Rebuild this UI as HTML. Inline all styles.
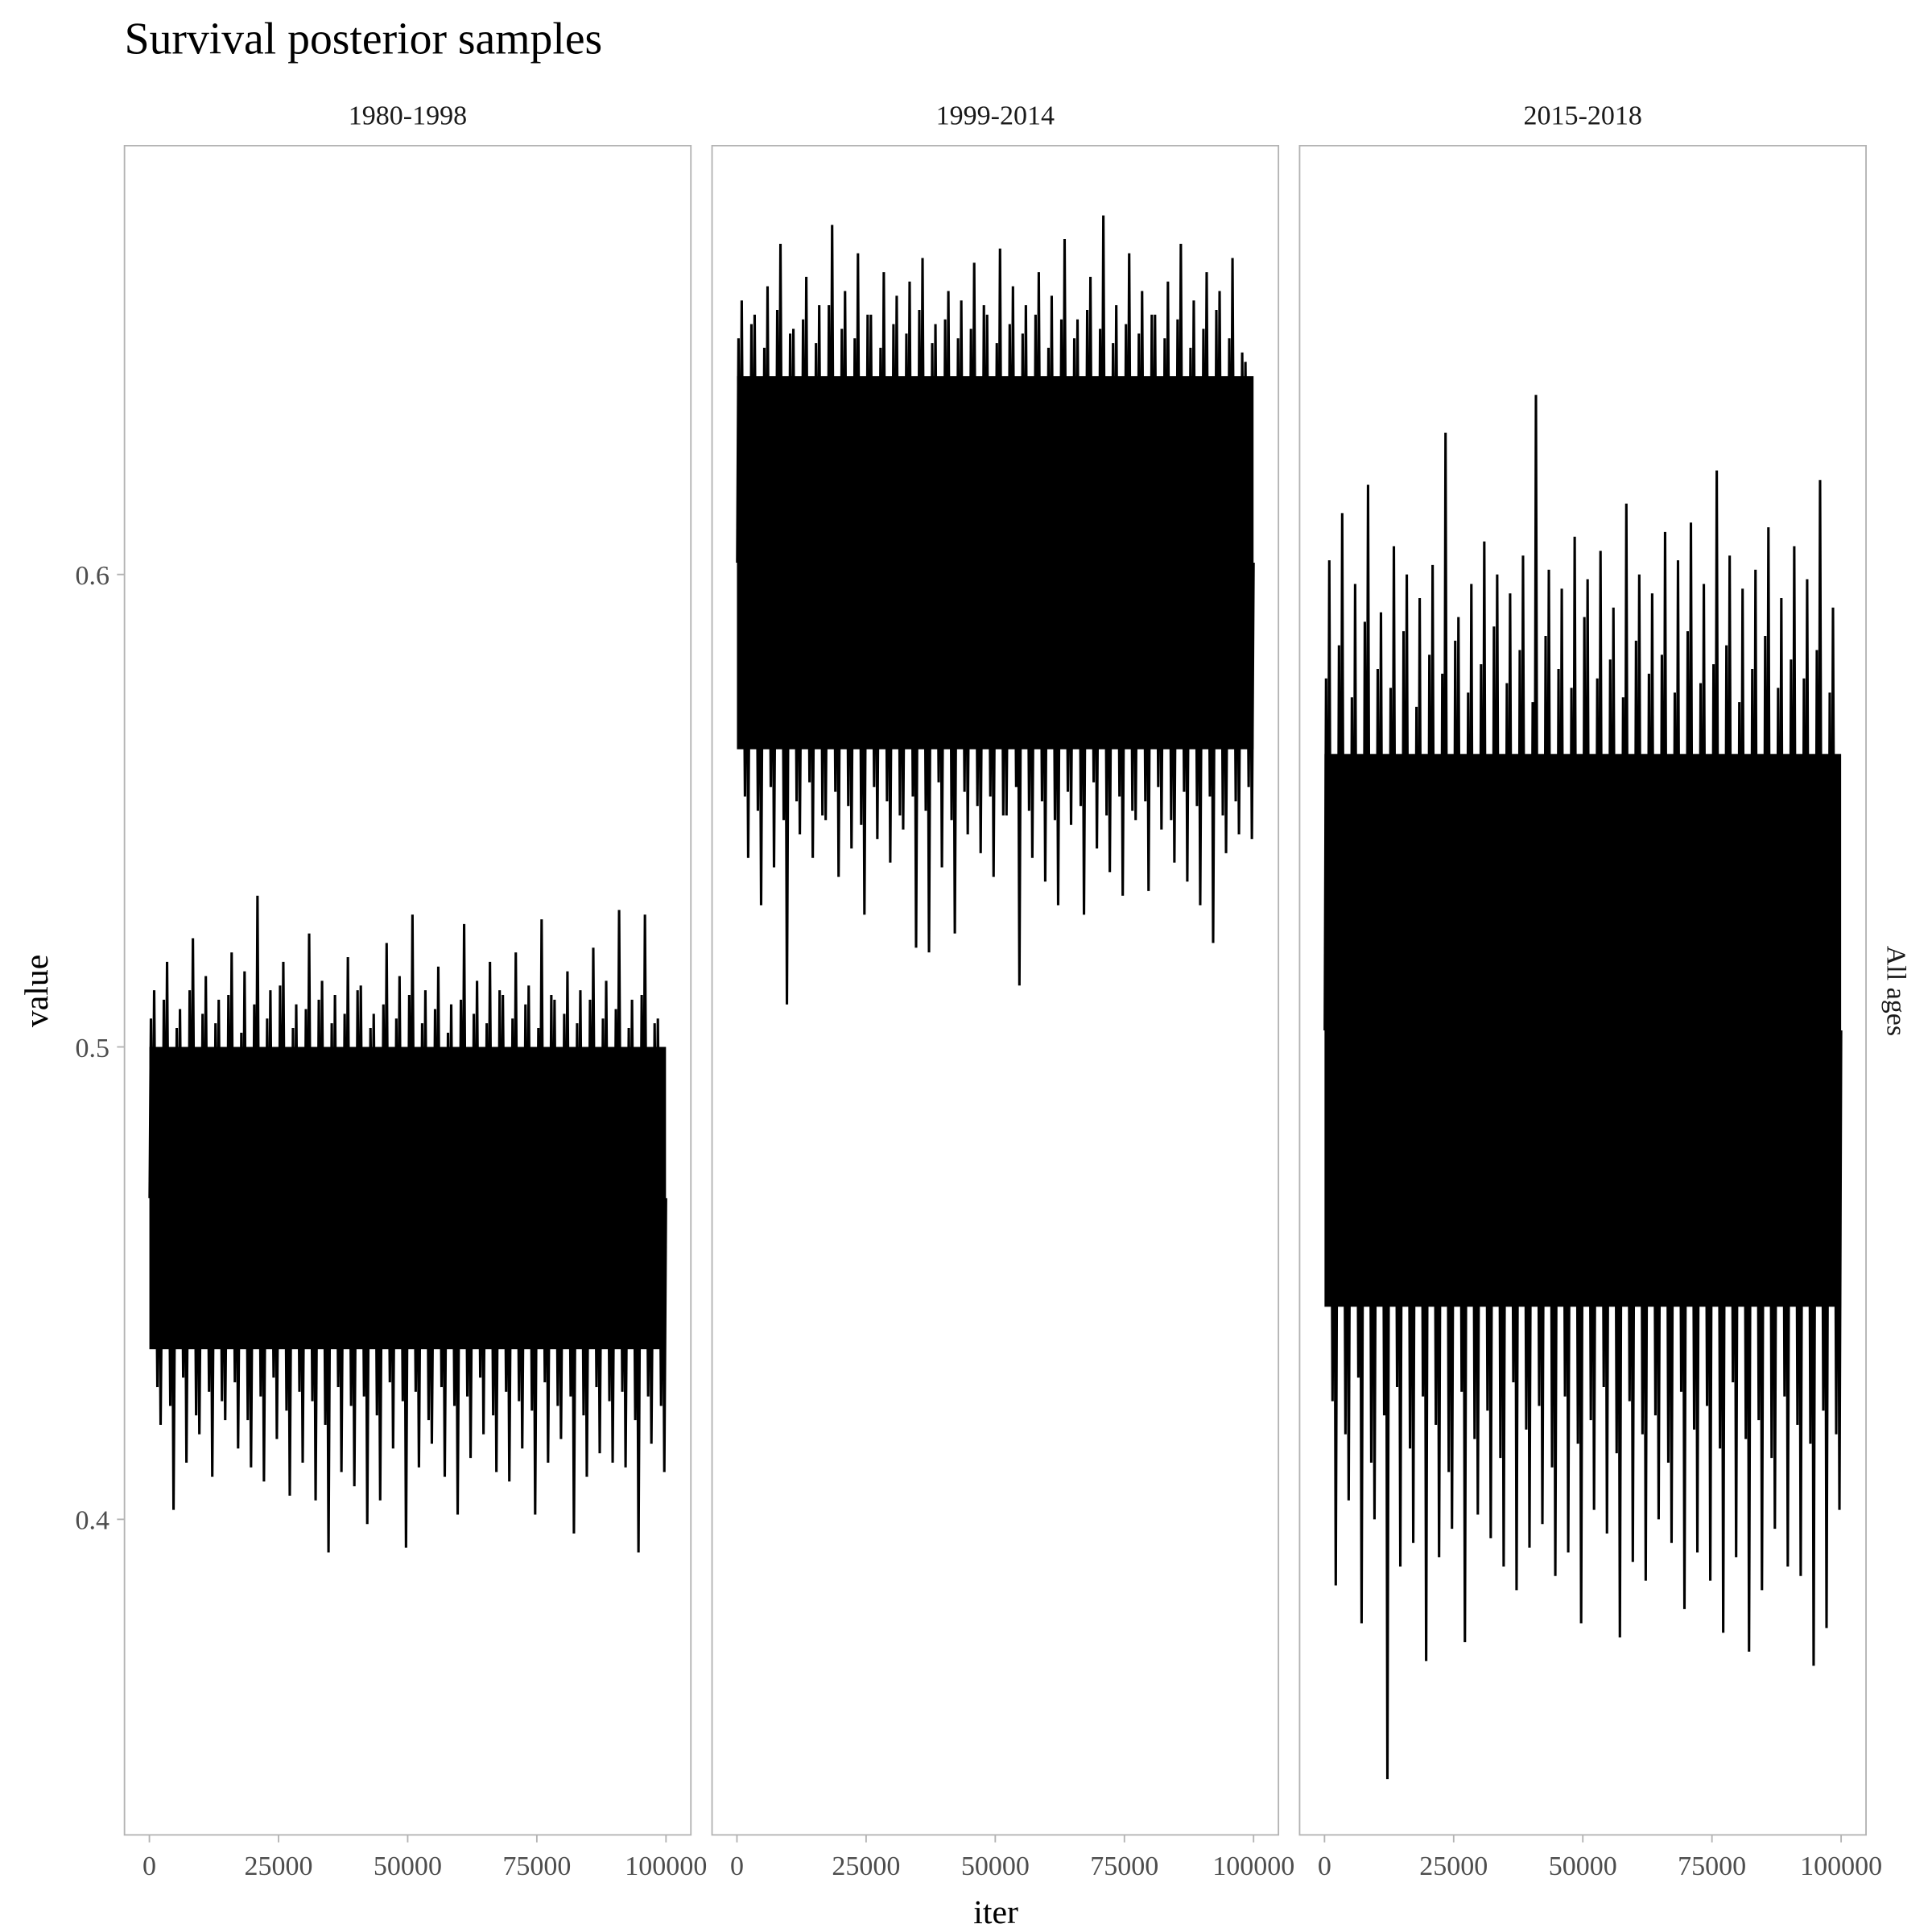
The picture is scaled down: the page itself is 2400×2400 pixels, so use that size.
<!DOCTYPE html>
<html><head><meta charset="utf-8"><style>
html,body{margin:0;padding:0;background:#fff}
svg{display:block}
text{font-family:"Liberation Serif",serif}
</style></head><body>
<svg id="chart" width="2400" height="2400" viewBox="0 0 1552 1552">
<text x="100" y="43" font-size="36" fill="#000">Survival posterior samples</text>
<text x="38" y="796" font-size="27" fill="#000" transform="rotate(-90 38 796)" text-anchor="middle">value</text>
<text x="800" y="1545" font-size="27" fill="#000" text-anchor="middle">iter</text>
<text x="1516" y="796" font-size="22" fill="#1a1a1a" transform="rotate(90 1516 796)" text-anchor="middle">All ages</text>
<g id="plots"></g>
</svg>
<script>
const panelNames = ["1980-1998", "1999-2014", "2015-2018"];
const xTicks = [0, 25000, 50000, 75000, 100000];
const yTicks = [0.4, 0.5, 0.6];
const coreLow = [0.436, 0.563, 0.445];
const coreHigh = [0.500, 0.642, 0.562];
const upper1 = [0.512,0.518,0.508,0.523,0.515,0.510,0.520,0.516,0.532,0.512,0.518,0.509,0.524,0.514,0.511,0.519,0.513,0.507,0.522,0.515,0.528,0.512,0.517,0.509,0.526,0.514,0.518,0.511,0.520,0.513,0.527,0.510,0.516,0.512,0.521,0.514,0.529,0.510,0.528,0.506];
const lower1 = [0.420,0.402,0.412,0.418,0.409,0.421,0.415,0.411,0.408,0.417,0.405,0.412,0.404,0.393,0.410,0.407,0.399,0.404,0.415,0.394,0.411,0.416,0.409,0.401,0.413,0.418,0.410,0.408,0.415,0.401,0.412,0.417,0.397,0.409,0.414,0.412,0.411,0.393,0.416,0.410];
const upperB1 = [0.506,0.510,0.504,0.512,0.507,0.505,0.511,0.503,0.509,0.506,0.513,0.504,0.508,0.510,0.505,0.507,0.512,0.504,0.509,0.506,0.511,0.505,0.508,0.503,0.510,0.507,0.505,0.512,0.506,0.509,0.504,0.511,0.507,0.505,0.510,0.506,0.508,0.504,0.511,0.505];
const lowerB1 = [0.428,0.424,0.430,0.422,0.427,0.425,0.429,0.421,0.426,0.430,0.423,0.427,0.425,0.420,0.428,0.424,0.426,0.422,0.429,0.425,0.427,0.421,0.428,0.424,0.426,0.430,0.422,0.427,0.425,0.423,0.429,0.424,0.426,0.422,0.428,0.425,0.427,0.421,0.426,0.424];
const upper2 = [0.658,0.655,0.661,0.670,0.652,0.663,0.657,0.674,0.660,0.668,0.655,0.664,0.659,0.662,0.667,0.653,0.660,0.658,0.666,0.655,0.669,0.661,0.657,0.664,0.659,0.671,0.654,0.663,0.676,0.657,0.668,0.660,0.655,0.662,0.670,0.658,0.664,0.660,0.667,0.645];
const lower2 = [0.540,0.530,0.538,0.509,0.545,0.540,0.548,0.536,0.542,0.528,0.544,0.539,0.546,0.521,0.520,0.538,0.524,0.545,0.541,0.536,0.549,0.513,0.540,0.535,0.530,0.547,0.528,0.542,0.537,0.532,0.548,0.533,0.546,0.539,0.535,0.530,0.522,0.541,0.545,0.544];
const upperB2 = [0.650,0.653,0.648,0.656,0.651,0.654,0.649,0.657,0.652,0.650,0.655,0.648,0.653,0.651,0.656,0.649,0.654,0.650,0.652,0.657,0.649,0.653,0.651,0.655,0.648,0.654,0.650,0.656,0.652,0.649,0.653,0.651,0.655,0.650,0.654,0.648,0.652,0.656,0.650,0.647];
const lowerB2 = [0.553,0.550,0.555,0.548,0.552,0.556,0.549,0.554,0.551,0.547,0.555,0.552,0.549,0.553,0.550,0.556,0.548,0.554,0.551,0.553,0.549,0.555,0.550,0.552,0.548,0.554,0.551,0.556,0.549,0.553,0.550,0.552,0.555,0.548,0.554,0.551,0.553,0.549,0.552,0.555];
const upper3 = [0.603,0.613,0.598,0.619,0.592,0.606,0.600,0.595,0.602,0.630,0.591,0.598,0.607,0.600,0.596,0.604,0.638,0.601,0.597,0.608,0.599,0.605,0.593,0.615,0.600,0.596,0.609,0.603,0.611,0.598,0.622,0.604,0.597,0.601,0.610,0.595,0.606,0.599,0.620,0.593];
const lower3 = [0.386,0.404,0.378,0.400,0.345,0.390,0.395,0.370,0.392,0.398,0.374,0.401,0.396,0.390,0.385,0.394,0.399,0.388,0.393,0.378,0.402,0.397,0.375,0.391,0.387,0.400,0.395,0.381,0.393,0.387,0.376,0.392,0.372,0.385,0.398,0.390,0.388,0.369,0.377,0.402];
const upperB3 = [0.578,0.585,0.574,0.590,0.580,0.576,0.588,0.572,0.583,0.579,0.586,0.575,0.581,0.589,0.577,0.584,0.573,0.587,0.580,0.576,0.591,0.578,0.582,0.574,0.586,0.579,0.583,0.575,0.588,0.577,0.581,0.585,0.573,0.580,0.587,0.576,0.582,0.578,0.584,0.575];
const lowerB3 = [0.425,0.418,0.430,0.412,0.422,0.428,0.415,0.426,0.420,0.410,0.427,0.417,0.423,0.413,0.429,0.419,0.424,0.411,0.426,0.416,0.421,0.428,0.414,0.425,0.418,0.422,0.412,0.427,0.419,0.424,0.415,0.429,0.417,0.421,0.413,0.426,0.420,0.416,0.423,0.418];
const uppers = [upper1, upper2, upper3];
const lowers = [lower1, lower2, lower3];
const uppersB = [upperB1, upperB2, upperB3];
const lowersB = [lowerB1, lowerB2, lowerB3];

const NS = "http://www.w3.org/2000/svg";
const g = document.getElementById("plots");
const pTop = 117, pBot = 1474, pW = 455, pGap = 17, pLeft0 = 100;
function yScale(v){ return 841 - (v - 0.5) * 3795; }
function xScale(p, it){ return pLeft0 + p*(pW+pGap) + 20 + it/100000*415; }
function mk(tag, attrs){ const e = document.createElementNS(NS, tag); for (const k in attrs) e.setAttribute(k, attrs[k]); return e; }

for (let p = 0; p < 3; p++) {
  const left = pLeft0 + p*(pW+pGap);
  const strip = mk("text", {x: left + pW/2, y: 100, "font-size": 22, "text-anchor": "middle", fill: "#1a1a1a"});
  strip.textContent = panelNames[p];
  
  
  g.appendChild(strip);

  const x0 = xScale(p, 0), x1 = xScale(p, 100000);
  const core = mk("rect", {x: x0, y: yScale(coreHigh[p]), width: x1 - x0, height: yScale(coreLow[p]) - yScale(coreHigh[p]), fill: "#000"});
  
  
  g.appendChild(core);

  const up = uppers[p], lo = lowers[p], upB = uppersB[p], loB = lowersB[p], n = up.length;
  const step = 100000 / n;
  const mid = yScale((coreLow[p]+coreHigh[p])/2);
  let pts = [];
  for (let i = 0; i < n; i++) {
    pts.push(xScale(p, i*step + step*0.02) + "," + mid);
    pts.push(xScale(p, i*step + step*0.12) + "," + yScale(upB[i]));
    pts.push(xScale(p, i*step + step*0.25) + "," + mid);
    pts.push(xScale(p, i*step + step*0.37) + "," + yScale(up[i]));
    pts.push(xScale(p, i*step + step*0.5) + "," + mid);
    pts.push(xScale(p, i*step + step*0.62) + "," + yScale(loB[i]));
    pts.push(xScale(p, i*step + step*0.75) + "," + mid);
    pts.push(xScale(p, i*step + step*0.87) + "," + yScale(lo[i]));
  }
  pts.push(xScale(p, 100000) + "," + mid);
  const line = mk("polyline", {points: pts.join(" "), fill: "none", stroke: "#000", "stroke-width": 2});
  
  
  g.appendChild(line);

  const border = mk("rect", {x: left, y: pTop, width: pW, height: pBot - pTop, fill: "none", stroke: "#b3b3b3", "stroke-width": 1.2});
  
  
  g.appendChild(border);

  for (const t of xTicks) {
    const x = xScale(p, t);
    const tk = mk("line", {x1: x, x2: x, y1: pBot, y2: pBot + 6, stroke: "#b3b3b3", "stroke-width": 1.2});
    
    
    g.appendChild(tk);
    const lb = mk("text", {x: x, y: pBot + 32, "font-size": 22, "text-anchor": "middle", fill: "#4d4d4d"});
    lb.textContent = String(t);
    
    
    g.appendChild(lb);
  }
}
for (const t of yTicks) {
  const y = yScale(t);
  const tk = mk("line", {x1: 94, x2: 100, y1: y, y2: y, stroke: "#b3b3b3", "stroke-width": 1.2});
  
  
  g.appendChild(tk);
  const lb = mk("text", {x: 88, y: y + 8, "font-size": 22, "text-anchor": "end", fill: "#4d4d4d"});
  lb.textContent = t.toFixed(1);
  
  
  g.appendChild(lb);
}
</script>
</body></html>
